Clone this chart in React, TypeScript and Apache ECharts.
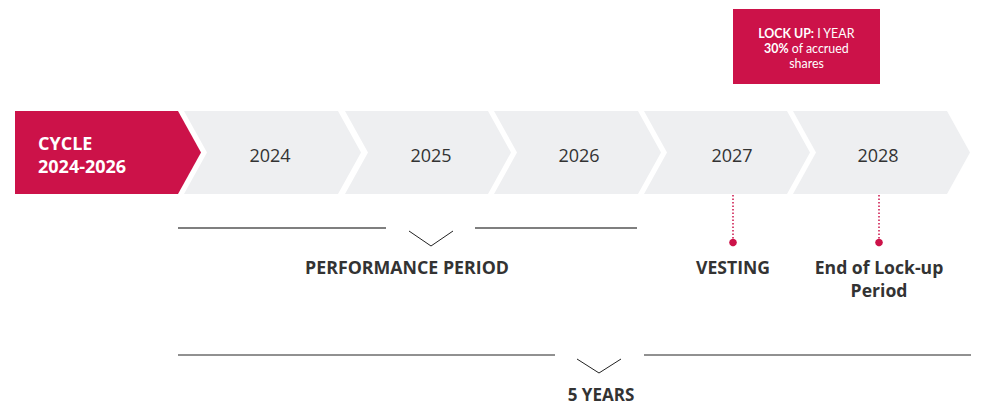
import React, { useEffect, useRef } from "react";
import * as echarts from "echarts";

const cycleLabel = ["CYCLE", "2024-2026"];
const years = ["2024", "2025", "2026", "2027", "2028"];
const milestones = [
  { year: "2027", label: ["VESTING"] },
  { year: "2028", label: ["End of Lock-up", "Period"] },
];
const lockUpLines = [
  { bold: "LOCK UP:", normal: " I YEAR" },
  { bold: "30%", normal: " of accrued" },
  { bold: "", normal: "shares" },
];
const performanceLabel = "PERFORMANCE PERIOD";
const totalLabel = "5 YEARS";

const RED = "#cc1249";
const GREY = "#eeeff1";
const DARK = "#333333";
const FONT = "'Open Sans', sans-serif";
const BOX_FONT = "Lato, 'Open Sans', sans-serif";

export default function App() {
  const ref = useRef<HTMLDivElement>(null);
  useEffect(() => {
    if (!ref.current) return;
    const chart = echarts.init(ref.current, undefined, { renderer: "svg" });

    const canvas = document.createElement("canvas");
    const ctx = canvas.getContext("2d") as CanvasRenderingContext2D;
    const measure = (t: string, font: string) => {
      ctx.font = font;
      return ctx.measureText(t).width;
    };

    const top = 111;
    const bottom = 194;
    const mid = (top + bottom) / 2;
    const D = 23;
    const edges: [number, number][] = [
      [184, 338],
      [345, 488],
      [494, 638],
      [644, 787],
      [793, 947],
    ];
    const labelX = [270, 431, 579, 732, 878];
    const els: any[] = [];

    els.push({
      type: "polygon",
      shape: {
        points: [
          [15, top],
          [178, top],
          [178 + D, mid],
          [178, bottom],
          [15, bottom],
        ],
      },
      style: { fill: RED },
    });
    els.push({
      type: "text",
      x: 38,
      y: 154,
      style: {
        text: cycleLabel.join("\n"),
        fill: "#ffffff",
        font: `bold 18px ${FONT}`,
        lineHeight: 23,
        textAlign: "left",
        textVerticalAlign: "middle",
      },
    });

    const centers: Record<string, number> = {};
    years.forEach((y, i) => {
      const [L, R] = edges[i];
      els.push({
        type: "polygon",
        shape: {
          points: [
            [L, top],
            [R, top],
            [R + D, mid],
            [R, bottom],
            [L, bottom],
            [L + D, mid],
          ],
        },
        style: { fill: GREY },
      });
      const cx = labelX[i];
      centers[y] = cx;
      els.push({
        type: "text",
        x: cx,
        y: 155,
        style: {
          text: y,
          fill: DARK,
          font: `18px ${FONT}`,
          textAlign: "center",
          textVerticalAlign: "middle",
        },
      });
    });

    // lock-up box
    els.push({
      type: "rect",
      shape: { x: 733, y: 9, width: 147, height: 75 },
      style: { fill: RED },
    });
    const boldFont = `bold 12.4px ${BOX_FONT}`;
    const normFont = `12.4px ${BOX_FONT}`;
    lockUpLines.forEach((ln, i) => {
      const wb = ln.bold ? measure(ln.bold, boldFont) : 0;
      const wn = measure(ln.normal, normFont);
      const start = 806.5 - (wb + wn) / 2;
      const yy = 33 + i * 15;
      if (ln.bold) {
        els.push({
          type: "text",
          x: start,
          y: yy,
          style: {
            text: ln.bold,
            fill: "#ffffff",
            font: boldFont,
            textAlign: "left",
            textVerticalAlign: "middle",
          },
        });
      }
      els.push({
        type: "text",
        x: start + wb,
        y: yy,
        style: {
          text: ln.normal,
          fill: "#ffffff",
          font: normFont,
          textAlign: "left",
          textVerticalAlign: "middle",
        },
      });
    });

    // milestones
    milestones.forEach((m) => {
      const x = Math.round(centers[m.year]) + 1;
      els.push({
        type: "line",
        shape: { x1: x, y1: 195, x2: x, y2: 239 },
        style: { stroke: RED, lineWidth: 1.5, lineDash: [1.5, 2] },
      });
      els.push({
        type: "circle",
        shape: { cx: x, cy: 242.5, r: 3.8 },
        style: { fill: RED },
      });
      els.push({
        type: "text",
        x,
        y: 267 + (m.label.length - 1) * 11.5,
        style: {
          text: m.label.join("\n"),
          fill: DARK,
          font: `bold 17.6px ${FONT}`,
          lineHeight: 23,
          textAlign: "center",
          textVerticalAlign: "middle",
        },
      });
    });

    // performance period bracket
    els.push({
      type: "line",
      shape: { x1: 178, y1: 228, x2: 386, y2: 228 },
      style: { stroke: "#555555", lineWidth: 1.3 },
    });
    els.push({
      type: "line",
      shape: { x1: 475, y1: 228, x2: 637, y2: 228 },
      style: { stroke: "#555555", lineWidth: 1.3 },
    });
    els.push({
      type: "polyline",
      shape: { points: [[409, 231], [431, 246], [453, 231]] },
      style: { stroke: "#222222", lineWidth: 1, fill: "none" },
    });
    els.push({
      type: "text",
      x: 407,
      y: 267,
      style: {
        text: performanceLabel,
        fill: DARK,
        font: `bold 17.8px ${FONT}`,
        textAlign: "center",
        textVerticalAlign: "middle",
      },
    });

    // 5 years bracket
    els.push({
      type: "line",
      shape: { x1: 178, y1: 355, x2: 555, y2: 355 },
      style: { stroke: "#222222", lineWidth: 1 },
    });
    els.push({
      type: "line",
      shape: { x1: 644, y1: 355, x2: 971, y2: 355 },
      style: { stroke: "#222222", lineWidth: 1 },
    });
    els.push({
      type: "polyline",
      shape: { points: [[577, 359], [599, 373], [621, 359]] },
      style: { stroke: "#222222", lineWidth: 1, fill: "none" },
    });
    els.push({
      type: "text",
      x: 601,
      y: 394,
      style: {
        text: totalLabel,
        fill: DARK,
        font: `bold 17px ${FONT}`,
        lineHeight: 18,
        textAlign: "center",
        textVerticalAlign: "middle",
      },
    });

    chart.setOption({
      animation: false,
      backgroundColor: "#ffffff",
      graphic: { elements: els },
    });
    return () => chart.dispose();
  }, []);

  return (
    <div
      ref={ref}
      style={{ position: "fixed", left: 0, top: 0, width: 981, height: 404 }}
    />
  );
}
